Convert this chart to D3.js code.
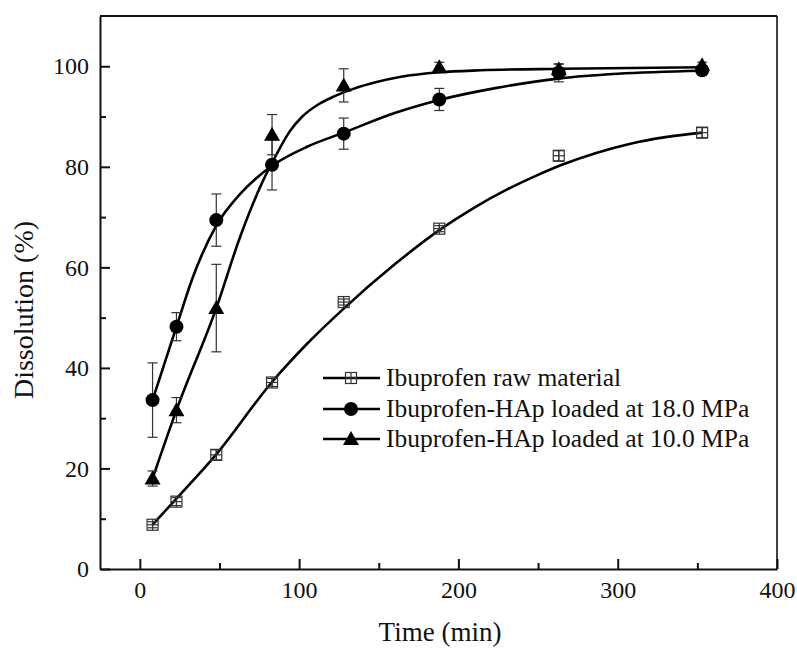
<!DOCTYPE html>
<html>
<head>
<meta charset="utf-8">
<script src="https://cdn.jsdelivr.net/npm/d3@7"></script>
<style>
  html, body { margin: 0; padding: 0; background: #fff; }
  svg { display: block; }
  svg text { font-family: "Liberation Serif", "Tinos", "Times New Roman", "DejaVu Serif", serif !important; fill: #111; }
</style>
</head>
<body>
<svg id="chart" width="797" height="649"></svg>
<script>
// ---- data ----
const times = [8, 23, 48, 83, 128, 188, 263, 353];
const rawVals = [8.8, 13.4, 22.7, 37.1, 53.1, 67.7, 82.2, 86.8];
const rawErr = [0.6, 0.8, 1.0, 0.8, 0.6, 0.6, 1.0, 1.0];
const mpa18Vals = [33.6, 48.2, 69.4, 80.4, 86.6, 93.4, 98.7, 99.2];
const mpa18Err = [7.4, 2.8, 5.2, 5.0, 3.1, 2.2, 1.8, 0.6];
const mpa10Vals = [18.0, 31.6, 51.9, 86.4, 96.2, 99.8, 99.4, 100.2];
const mpa10Err = [1.5, 2.5, 8.7, 4.0, 3.3, 1.0, 1.0, 0.6];

// fitted curves
const rawFitT = [8, 23, 48, 83, 105, 128, 160, 188, 210, 230, 250, 265, 287, 308, 330, 353];
const rawFitY = [8.8, 14.0, 22.8, 37.2, 44.8, 51.8, 60.6, 67.4, 71.9, 75.4, 78.4, 80.4, 82.8, 84.6, 85.9, 86.8];
const mpa18FitT = [8, 23, 33, 48, 63, 83, 105, 128, 160, 188, 224, 264, 300, 353];
const mpa18FitY = [33.6, 48.2, 57.8, 68.3, 74.6, 80.2, 84.0, 86.8, 90.7, 93.3, 95.7, 97.6, 98.5, 99.1];
const mpa10FitT = [8, 23, 48, 63, 77, 86, 94, 102, 112, 122, 134, 148, 164, 188, 214, 264, 353];
const mpa10FitY = [18.0, 31.6, 51.9, 66.1, 77.0, 82.6, 87.0, 90.0, 92.4, 94.0, 95.5, 96.8, 97.9, 98.8, 99.2, 99.5, 99.8];

const seriesNames = ["Ibuprofen raw material", "Ibuprofen-HAp loaded at 18.0 MPa", "Ibuprofen-HAp loaded at 10.0 MPa"];
const xMajorTicks = [0, 100, 200, 300, 400];
const xMinorTicks = [50, 150, 250, 350];
const yMajorTicks = [0, 20, 40, 60, 80, 100];
const yMinorTicks = [10, 30, 50, 70, 90];
const xTitle = "Time (min)";
const yTitle = "Dissolution (%)";

// ---- layout ----
const FONT = "'Liberation Serif', Tinos, 'Times New Roman', 'DejaVu Serif', serif";
const svg = d3.select("#chart");
const L = 100, R = 777, T = 16, B = 569;
const x = d3.scaleLinear().domain([-25, 400]).range([L, R]);
const y = d3.scaleLinear().domain([0, 110]).range([B, T]);

const series = [
  { name: seriesNames[0], vals: rawVals, err: rawErr, fitT: rawFitT, fitY: rawFitY, marker: "square" },
  { name: seriesNames[1], vals: mpa18Vals, err: mpa18Err, fitT: mpa18FitT, fitY: mpa18FitY, marker: "circle" },
  { name: seriesNames[2], vals: mpa10Vals, err: mpa10Err, fitT: mpa10FitT, fitY: mpa10FitY, marker: "triangle" }
];

// frame top/right
svg.append("line").attr("x1", L).attr("x2", R).attr("y1", T).attr("y2", T)
  .attr("stroke", "#111").attr("stroke-width", 2);
svg.append("line").attr("x1", R).attr("x2", R).attr("y1", T).attr("y2", B)
  .attr("stroke", "#111").attr("stroke-width", 1.6);

// axes
function styleAxis(g, fs) {
  g.attr("font-family", FONT);
  g.selectAll("path.domain").attr("stroke", "#111").attr("stroke-width", 2);
  g.selectAll(".tick line").attr("stroke", "#111").attr("stroke-width", 2);
  g.selectAll("text").attr("font-size", fs).attr("fill", "#111").style("font-family", FONT);
}
const gx = svg.append("g").attr("transform", `translate(0,${B})`)
  .call(d3.axisBottom(x).tickValues(xMajorTicks).tickSize(-10).tickSizeOuter(0).tickPadding(12).tickFormat(d3.format("d")));
styleAxis(gx, 24);
const gxm = svg.append("g").attr("transform", `translate(0,${B})`)
  .call(d3.axisBottom(x).tickValues(xMinorTicks).tickSize(-6).tickSizeOuter(0).tickFormat(""));
styleAxis(gxm, 24);
gxm.select("path.domain").remove();

const gy = svg.append("g").attr("transform", `translate(${L},0)`)
  .call(d3.axisLeft(y).tickValues(yMajorTicks).tickSize(-10).tickSizeOuter(0).tickPadding(11).tickFormat(d3.format("d")));
styleAxis(gy, 24);
const gym = svg.append("g").attr("transform", `translate(${L},0)`)
  .call(d3.axisLeft(y).tickValues(yMinorTicks).tickSize(-6).tickSizeOuter(0).tickFormat(""));
styleAxis(gym, 24);
gym.select("path.domain").remove();

// titles
svg.append("text").attr("x", 440).attr("y", 641).attr("text-anchor", "middle")
  .attr("font-size", 27).style("font-family", FONT).text(xTitle);
svg.append("text").attr("transform", `translate(33,${(222 + 398) / 2}) rotate(-90)`)
  .attr("text-anchor", "middle").attr("font-size", 28).style("font-family", FONT).text(yTitle);

// curves
const line = d3.line().x(d => x(d[0])).y(d => y(d[1])).curve(d3.curveMonotoneX);
series.forEach(s => {
  const pts = s.fitT.map((t, i) => [t, s.fitY[i]]);
  svg.append("path").attr("d", line(pts)).attr("fill", "none")
    .attr("stroke", "#000").attr("stroke-width", 2.6);
});

// error bars
const capW = 5;
series.forEach(s => {
  const g = svg.append("g").attr("stroke", "#333").attr("stroke-width", 1.2);
  times.forEach((t, i) => {
    const cx = x(t), y1 = y(s.vals[i] + s.err[i]), y2 = y(s.vals[i] - s.err[i]);
    g.append("line").attr("x1", cx).attr("x2", cx).attr("y1", y1).attr("y2", y2);
    g.append("line").attr("x1", cx - capW).attr("x2", cx + capW).attr("y1", y1).attr("y2", y1);
    g.append("line").attr("x1", cx - capW).attr("x2", cx + capW).attr("y1", y2).attr("y2", y2);
  });
});

// markers
function drawMarker(g, type, cx, cy) {
  if (type === "square") {
    const h = 5.5;
    g.append("rect").attr("x", cx - h).attr("y", cy - h).attr("width", 2 * h).attr("height", 2 * h)
      .attr("fill", "none").attr("stroke", "#333").attr("stroke-width", 1.2);
    g.append("line").attr("x1", cx - h).attr("x2", cx + h).attr("y1", cy).attr("y2", cy)
      .attr("stroke", "#333").attr("stroke-width", 1.2);
    g.append("line").attr("x1", cx).attr("x2", cx).attr("y1", cy - h).attr("y2", cy + h)
      .attr("stroke", "#333").attr("stroke-width", 1.2);
  } else if (type === "circle") {
    g.append("circle").attr("cx", cx).attr("cy", cy).attr("r", 7).attr("fill", "#000");
  } else {
    const s = 8;
    g.append("path").attr("d", `M${cx},${cy - s}L${cx + s},${cy + s * 0.75}L${cx - s},${cy + s * 0.75}Z`)
      .attr("fill", "#000");
  }
}
series.forEach(s => {
  const g = svg.append("g");
  times.forEach((t, i) => drawMarker(g, s.marker, x(t), y(s.vals[i])));
});

// legend
const legRows = [378, 409, 439];
series.forEach((s, i) => {
  const g = svg.append("g");
  const ly = legRows[i];
  g.append("line").attr("x1", 323).attr("x2", 380).attr("y1", ly).attr("y2", ly)
    .attr("stroke", "#000").attr("stroke-width", 2.6);
  drawMarker(g, s.marker, 351, ly);
  g.append("text").attr("x", 386).attr("y", ly + 8).attr("font-size", 25.5).style("font-family", FONT).text(s.name);
});
</script>
</body>
</html>
